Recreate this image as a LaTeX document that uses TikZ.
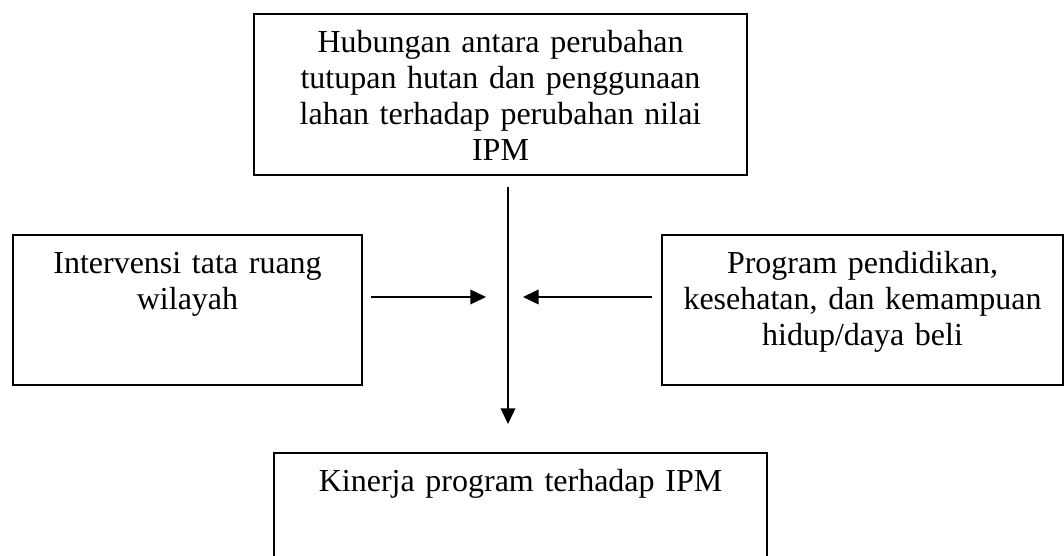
\documentclass[tikz,border=0pt]{standalone}
\usepackage{fontspec}
\setmainfont{Liberation Serif}
\usetikzlibrary{arrows.meta}

\begin{document}
\begin{tikzpicture}[x=0.375pt, y=-0.375pt, >={Triangle[length=5.9pt, width=5.5pt]}]
  \tikzstyle{box} = [draw, line width=0.75pt, rectangle, anchor=north west, inner sep=0pt, align=center, text height=14.5pt, font={\fontsize{12}{13.5}\selectfont}]

  \tikzstyle{flowEdge} = [black, line width=0.6pt, ->];

  \useasboundingbox (0,0) rectangle (1064,556);

  \node[box, text width=184.9pt, text depth=45.9pt] (hub)  at (253,13)  {Hubungan antara perubahan\\tutupan hutan dan penggunaan\\lahan terhadap perubahan nilai\\IPM};
  \node[box, text width=130.9pt, text depth=41.75pt] (tata) at (12,234)  {Intervensi tata ruang\\wilayah};
  \node[box, text width=150.4pt, text depth=41.75pt] (prog) at (661,234) {Program pendidikan,\\kesehatan, dan kemampuan\\hidup/daya beli};
  \node[box, text width=184.9pt, text depth=41.75pt] (kin)  at (273,452) {Kinerja program terhadap IPM};

  \coordinate (mid) at (508,297);

  \path (hub.south -| mid) edge[flowEdge, shorten <=4.1pt, shorten >=10.5pt] (kin.north -| mid)
        (tata.east |- mid) edge[flowEdge, shorten <=3pt, shorten >=8.25pt] (mid)
        (prog.west |- mid) edge[flowEdge, shorten <=3.4pt, shorten >=5.6pt] (mid);
\end{tikzpicture}
\end{document}
